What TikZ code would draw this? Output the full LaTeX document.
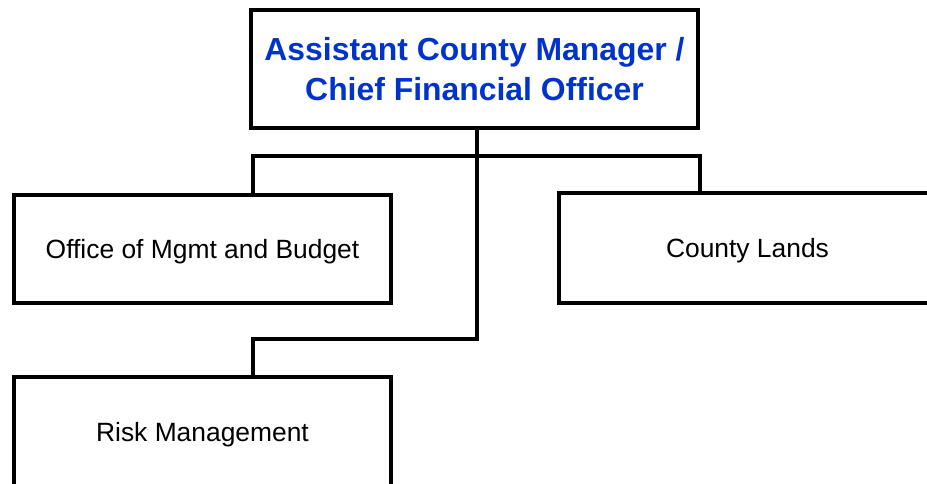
\documentclass[tikz,border=0pt]{standalone}
\usepackage{fontspec}
\setmainfont{Liberation Sans}
\usepackage{tikz}
\definecolor{headblue}{RGB}{0,51,204}
\tikzset{
	unit/.style={draw,line width=4pt,minimum width=377pt,minimum height=108pt,inner sep=0pt,text depth=0pt,font=\fontsize{26.4}{30}\selectfont},
	link/.style={line width=4pt}
}

\begin{document}
\begin{tikzpicture}[x=1pt,y=-1pt]
	\useasboundingbox (0,0) rectangle (927,483);
	\clip (0,0) rectangle (927,483);
	\node[unit,minimum width=447pt,minimum height=118pt,align=center,text=headblue,font=\fontsize{31.9}{40}\selectfont\bfseries] (acm) at (474.5,69) {Assistant County Manager /\\Chief Financial Officer};
	\node[unit] (omb) at (202.5,248.5) {Office of Mgmt and Budget};
	\node[unit,minimum height=110pt] (cl) at (747.5,248) {County Lands};
	\node[unit,minimum height=109pt] (rm) at (202.5,431.5) {Risk Management};
	\coordinate (lj) at (253,156);
	\coordinate (rj) at (700,156);
	\coordinate (bend) at (477,339);
	\coordinate (rbend) at (253,339);
	\draw[link] (lj |- omb.north) -- (lj) -- (rj) -- (rj |- cl.north);
	\draw[link] (acm.south -| bend) -- (bend) -- (rbend) -- (rbend |- rm.north);
\end{tikzpicture}
\end{document}
